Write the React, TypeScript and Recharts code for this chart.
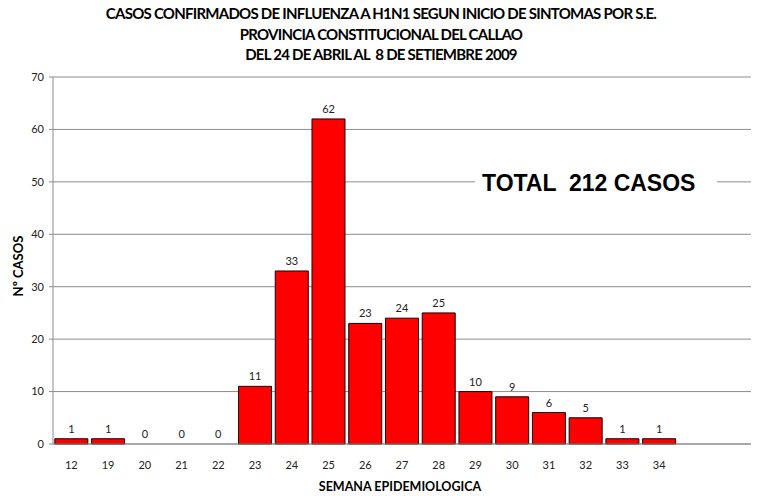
import React from 'react'
import { ComposedChart, Bar, Line, XAxis, YAxis, CartesianGrid, LabelList } from 'recharts'

// semanas epidemiologicas (dos vacias al final, como en el original)
const semanas = ['12', '19', '20', '21', '22', '23', '24', '25', '26', '27', '28', '29', '30', '31', '32', '33', '34', '', ' ']
const casos: (number | null)[] = [1, 1, 0, 0, 0, 11, 33, 62, 23, 24, 25, 10, 9, 6, 5, 1, 1, null, null]
const yTicks = [0, 10, 20, 30, 40, 50, 60, 70]
const titulo = [
  'CASOS CONFIRMADOS DE INFLUENZA A H1N1 SEGUN INICIO DE SINTOMAS POR S.E.',
  'PROVINCIA CONSTITUCIONAL DEL CALLAO',
  'DEL 24 DE ABRIL AL  8 DE SETIEMBRE 2009',
]

const data = semanas.map((s, i) => ({ semana: s, casos: casos[i] }))

const FONT = 'Lato, "Open Sans", sans-serif'

export default function App() {
  return (
    <div style={{ position: 'absolute', left: 0, top: 0, width: 758, height: 496, background: '#fff', fontFamily: FONT }}>
      {titulo.map((t, i) => (
        <div
          key={i}
          style={{
            position: 'absolute',
            left: 0,
            width: 762,
            top: 3 + i * 20.5,
            textAlign: 'center',
            fontWeight: 700,
            fontSize: 15,
            lineHeight: '20px',
            letterSpacing: -0.75,
            color: '#000',
            whiteSpace: 'pre',
          }}
        >
          {t}
        </div>
      ))}
      <ComposedChart
        width={758}
        height={496}
        data={data}
        margin={{ top: 77, right: 7, bottom: 0, left: 0 }}
        barCategoryGap="5%"
      >
        <CartesianGrid horizontal vertical={false} stroke="#8c8c8c" />
        <XAxis
          dataKey="semana"
          height={52}
          tickLine={false}
          axisLine={{ stroke: '#8c8c8c' }}
          tick={{ fill: '#222', fontSize: 11, fontFamily: FONT }}
          tickMargin={11}
          interval={0}
        />
        <YAxis
          width={53}
          domain={[0, 70]}
          ticks={yTicks}
          tickLine={{ stroke: '#8c8c8c' }}
          tickSize={4}
          axisLine={{ stroke: '#8c8c8c' }}
          tick={{ fill: '#222', fontSize: 11, fontFamily: FONT }}
          tickMargin={5}
        />
        <Bar dataKey="casos" fill="#ff0000" stroke="#1a0000" strokeWidth={1} isAnimationActive={false} />
        {/* linea invisible solo para las etiquetas (incluye los ceros) */}
        <Line dataKey="casos" stroke="none" dot={false} activeDot={false} isAnimationActive={false}>
          <LabelList dataKey="casos" position="top" offset={6} fill="#222" fontSize={11} fontFamily={FONT} />
        </Line>
      </ComposedChart>
      <div
        style={{
          position: 'absolute',
          left: 17.5,
          top: 266,
          transform: 'translate(-50%, -50%) rotate(-90deg)',
          fontWeight: 700,
          fontSize: 13,
          lineHeight: '14px',
          whiteSpace: 'nowrap',
        }}
      >
        Nº CASOS
      </div>
      <div
        style={{
          position: 'absolute',
          left: 200,
          width: 400,
          top: 479,
          textAlign: 'center',
          fontWeight: 700,
          fontSize: 12.5,
          lineHeight: '16px',
        }}
      >
        SEMANA EPIDEMIOLOGICA
      </div>
      <div
        style={{
          position: 'absolute',
          left: 475,
          top: 169,
          width: 242,
          height: 28,
          paddingLeft: 7,
          boxSizing: 'border-box',
          background: '#fff',
          fontFamily: '"Liberation Sans", Arial, sans-serif',
          fontWeight: 700,
          fontSize: 23,
          lineHeight: '28px',
          whiteSpace: 'pre',
        }}
      >
        {'TOTAL  212 CASOS'}
      </div>
    </div>
  )
}
